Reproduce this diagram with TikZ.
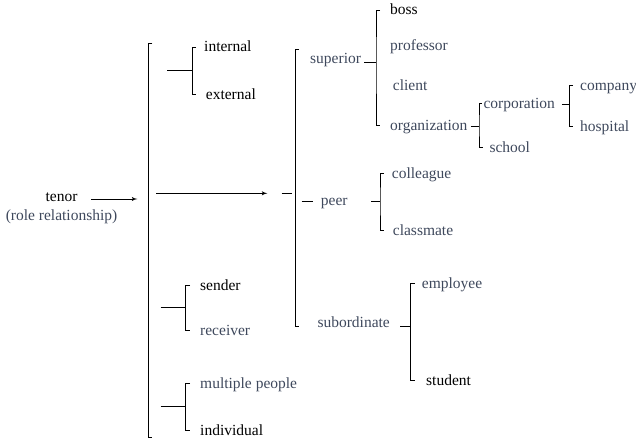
\documentclass[tikz,border=0pt]{standalone}
\usepackage{fontspec}
\setmainfont{Liberation Serif}
\usepackage{xcolor}
\usepackage{tikz}
\usetikzlibrary{arrows}
\definecolor{slate}{RGB}{62,72,92}
\tikzstyle{term} = [inner sep=0pt, anchor=base west, text height=10pt, text depth=0pt, font=\fontsize{15.5}{18}\selectfont]
\tikzstyle{soft} = [term, text=slate]
\tikzstyle{line} = [draw, line width=0.9pt, -latex']
\tikzstyle{tie} = [draw, line width=0.9pt]

\begin{document}
\begin{tikzpicture}[x=1pt, y=-1pt]
\useasboundingbox (0,0) rectangle (636,444);

\node [term, anchor=base] (tenor) at (61.5,201.7) {tenor};
\node [soft, anchor=base] (role) at (61.5,220.7) {(role relationship)};

\coordinate (tin) at (137.3,199);
\path [line, shorten <=13.5pt] (tenor.east |- tin) -- (tin);

\coordinate (bigtop) at (148.3,43.5);
\coordinate (bigbot) at (148.3,437.3);
\path [tie] ([xshift=4pt]bigtop) -- (bigtop) -- (bigbot) -- ([xshift=4pt]bigbot);

\node [term] (internal) at (204,52) {internal};
\node [term] (external) at (205.7,99.3) {external};
\coordinate (jie) at (192.3,70.3);
\coordinate (ie) at (167,70.3);
\path [tie] (ie) -- (jie);
\path [tie, shorten <=8pt, shorten >=9.5pt] (internal.west) -| (jie) |- (external.west);

\node [term] (sender) at (200,290.7) {sender};
\node [soft] (receiver) at (200,335.7) {receiver};
\coordinate (jsr) at (185.7,307.7);
\coordinate (sr) at (160.7,307.7);
\path [tie] (sr) -- (jsr);
\path [tie, shorten <=10pt, shorten >=10pt] (sender.west) -| (jsr) |- (receiver.west);

\node [soft] (multi) at (200,388.3) {multiple people};
\node [term] (individual) at (200,435) {individual};
\coordinate (jmi) at (185.7,406.7);
\coordinate (mi) at (160.7,406.7);
\path [tie] (mi) -- (jmi);
\path [tie, shorten <=10pt, shorten >=10pt] (multi.west) -| (jmi) |- (individual.west);

\coordinate (ma) at (156,193.3);
\coordinate (mb) at (267.3,193.3);
\coordinate (mc) at (281.7,193.3);
\coordinate (md) at (292.3,193.3);
\path [line] (ma) -- (mb);
\path [tie] (mc) -- (md);

\coordinate (sectop) at (295,49.3);
\coordinate (secbot) at (295,326.7);
\path [tie] ([xshift=4pt]sectop) -- (sectop) -- (secbot) -- ([xshift=4pt]secbot);

\node [soft] (superior) at (310,63.3) {superior};
\node [soft] (peer) at (320.7,205) {peer};
\node [soft] (subordinate) at (317.3,327.7) {subordinate};

\coordinate (pd) at (301.7,201.3);
\path [tie, shorten >=7.7pt] (pd) -- (peer.west |- pd);

\node [term] (boss) at (390,15) {boss};
\node [soft] (professor) at (390,50.7) {professor};
\node [soft] (client) at (392.7,90) {client};
\node [soft] (organization) at (390,130) {organization};
\coordinate (jsup) at (376,62.7);
\path [tie, shorten <=3.3pt] (superior.east |- jsup) -- (jsup);
\path [tie, shorten <=10pt, shorten >=10pt] (boss.west) -| (jsup) |- (organization.west);

\node [soft] (corporation) at (483.3,108.3) {corporation};
\node [soft] (school) at (489.3,152.3) {school};
\coordinate (jorg) at (479,126);
\path [tie, shorten <=3.3pt] (organization.east |- jorg) -- (jorg);
\path [tie, shorten <=1.5pt, shorten >=6pt] (corporation.west) -| (jorg) |- (school.west);

\node [soft] (company) at (580,90) {company};
\node [soft] (hospital) at (580,131.7) {hospital};
\coordinate (jcorp) at (569.3,104.3);
\path [tie, shorten <=6.7pt] (corporation.east |- jcorp) -- (jcorp);
\path [tie, shorten <=7pt, shorten >=7pt] (company.west) -| (jcorp) |- (hospital.west);

\node [soft] (colleague) at (391.7,178.3) {colleague};
\node [soft] (classmate) at (392.7,235) {classmate};
\coordinate (jpeer) at (380,201);
\path [tie, shorten <=23.3pt] (peer.east |- jpeer) -- (jpeer);
\path [tie, shorten <=7.7pt, shorten >=8.7pt] (colleague.west) -| (jpeer) |- (classmate.west);

\node [soft] (employee) at (421.7,288.3) {employee};
\node [term] (student) at (426,385) {student};
\coordinate (jsub) at (410.7,326.7);
\path [tie, shorten <=10pt] (subordinate.east |- jsub) -- (jsub);
\path [tie, shorten <=7pt, shorten >=11pt] (employee.west) -| (jsub) |- (student.west);

\end{tikzpicture}
\end{document}
